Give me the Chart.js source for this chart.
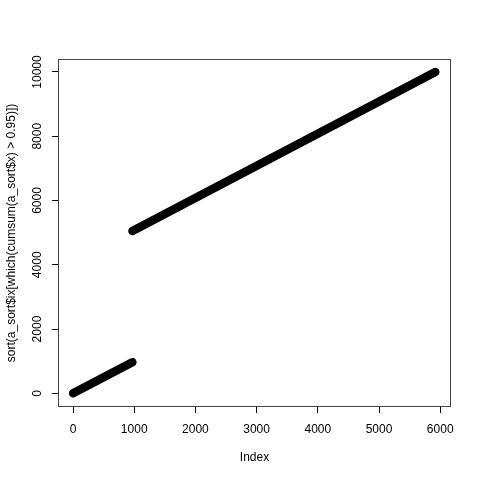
<!DOCTYPE html>
<html>
<head>
<meta charset="utf-8">
<script src="https://cdn.jsdelivr.net/npm/chart.js@4"></script>
<style>
  html, body { margin: 0; padding: 0; background: #fff; }
  #wrap { width: 480px; height: 480px; }
</style>
</head>
<body>
<div id="wrap"><canvas id="plot" width="480" height="480"></canvas></div>
<script>
// sorted indices: a low run and a high run
const lowIndex = [1, 970]
const lowValue = [1, 970]
const highIndex = [971, 5920]
const highValue = [5051, 10000]

const xTicks = [0, 1000, 2000, 3000, 4000, 5000, 6000]
const yTicks = [0, 2000, 4000, 6000, 8000, 10000]

const xTitle = 'Index'
const yTitle = 'sort(a_sort$ix[which(cumsum(a_sort$x) > 0.95)])'

const font = '"Liberation Sans", Arial, sans-serif'

const toPoints = (xs, ys) => xs.map((x, i) => ({ x: x, y: ys[i] }))

// box around the plot, rotated y labels and axis titles, R style
const rStyle = {
  id: 'rStyle',
  afterDraw(chart) {
    const ctx = chart.ctx
    const a = chart.chartArea
    const y = chart.scales.y
    ctx.save()
    ctx.strokeStyle = '#444'
    ctx.lineWidth = 1
    ctx.strokeRect(a.left - 0.5, a.top - 0.5, a.right - a.left + 1, a.bottom - a.top + 1)

    ctx.fillStyle = '#000'
    ctx.font = '12px ' + font
    ctx.textAlign = 'center'
    ctx.textBaseline = 'middle'
    yTicks.forEach(v => {
      ctx.save()
      ctx.translate(38, y.getPixelForValue(v))
      ctx.rotate(-Math.PI / 2)
      ctx.fillText(String(v), 0, 0)
      ctx.restore()
    })

    ctx.fillText(xTitle, (a.left + a.right) / 2, 458)
    ctx.save()
    ctx.translate(12, (a.top + a.bottom) / 2)
    ctx.rotate(-Math.PI / 2)
    ctx.fillText(yTitle, 0, 0)
    ctx.restore()
    ctx.restore()
  }
}

new Chart(document.getElementById('plot'), {
  type: 'scatter',
  data: {
    datasets: [
      { data: toPoints(lowIndex, lowValue) },
      { data: toPoints(highIndex, highValue) }
    ].map(d => Object.assign(d, {
      showLine: true,
      borderColor: '#000',
      borderWidth: 8.5,
      borderCapStyle: 'round',
      pointRadius: 0,
      pointHoverRadius: 0
    }))
  },
  options: {
    responsive: false,
    animation: false,
    events: [],
    layout: { padding: { top: 60, right: 30, left: 0, bottom: 0 } },
    plugins: { legend: { display: false }, tooltip: { enabled: false } },
    scales: {
      x: {
        type: 'linear',
        min: -229,
        max: 6160,
        afterBuildTicks: s => { s.ticks = xTicks.map(v => ({ value: v })) },
        afterFit: s => { s.height = 74 },
        border: { display: false },
        grid: { drawOnChartArea: false, tickLength: 7, color: '#000' },
        ticks: {
          color: '#000',
          padding: 9,
          maxRotation: 0,
          callback: v => String(v),
          font: { family: font, size: 12 }
        }
      },
      y: {
        type: 'linear',
        min: -395,
        max: 10373,
        afterBuildTicks: s => { s.ticks = yTicks.map(v => ({ value: v })) },
        afterFit: s => { s.width = 59 },
        border: { display: false },
        grid: { drawOnChartArea: false, tickLength: 7, color: '#000' },
        ticks: { display: false }
      }
    }
  },
  plugins: [rStyle]
})
</script>
</body>
</html>
